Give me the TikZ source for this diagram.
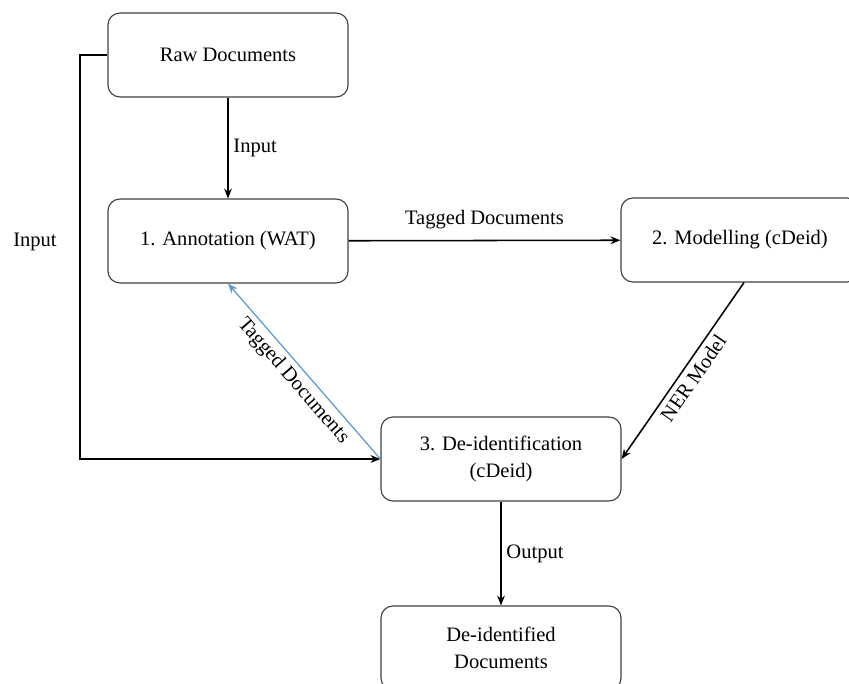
\documentclass[tikz,border=0pt]{standalone}
\usepackage{fontspec}
\setmainfont{Liberation Serif}
\usetikzlibrary{arrows.meta}

\begin{document}
\begin{tikzpicture}[x=0.025cm,y=-0.025cm,
		box/.style={draw=black!75,line width=0.8pt,rounded corners=0.3cm,minimum width=6cm,minimum height=2.1cm,align=center,font=\fontsize{14.6}{19}\selectfont},
		link/.style={-{Stealth[length=7pt,width=5.5pt]},line width=1.1pt},
		lbl/.style={font=\fontsize{14.6}{18}\selectfont}]
		\useasboundingbox (0,0) rectangle (849,684);
		% boxes
		\node[box] (raw) at (228,55) {Raw Documents};
		\node[box] (annot) at (228,241) {1. Annotation (WAT)};
		\node[box,minimum width=5.95cm] (model) at (740,240) {2. Modelling (cDeid)};
		\node[box] (deid) at (501,459) {3. De-identification\\(cDeid)};
		\node[box] (out) at (501,648) {De-identified\\Documents};
		\coordinate (bend) at (80,55);
		% connectors
		\draw[link] (raw) -- (annot) node[lbl,midway,right] {Input};
		\draw[link] (raw.west) -- (bend) |- (deid.west);
		\node[lbl] (inlbl) at (35,242) {Input};
		\draw[link] (annot) -- (model) node[lbl,midway,above=4pt] {Tagged Documents};
		\draw[link] ([xshift=0.1cm]model.south) -- (deid.east) node[lbl,midway,sloped,below] {NER Model};
		\draw[link,color={rgb,255:red,91;green,155;blue,213},line width=0.9pt] (deid.west) -- (annot.south) node[lbl,black,midway,sloped,below] {Tagged Documents};
		\draw[link] (deid) -- (out) node[lbl,midway,right] {Output};
\end{tikzpicture}
\end{document}
